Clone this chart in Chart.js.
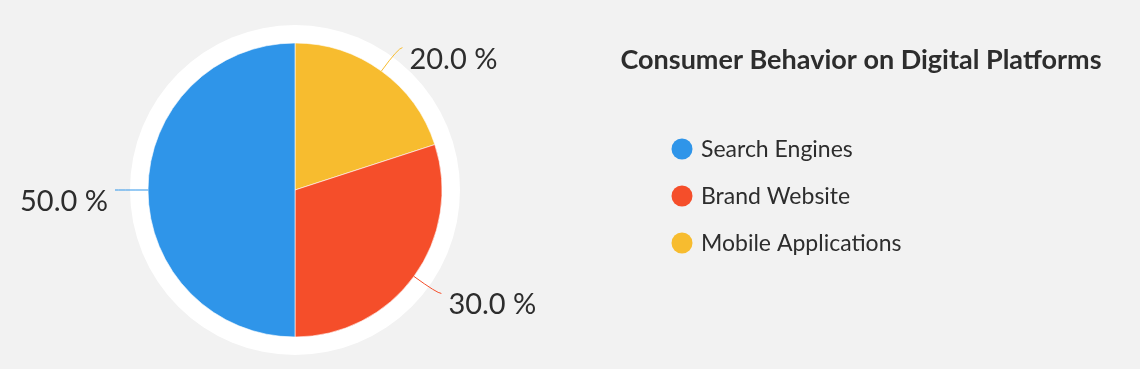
<!DOCTYPE html>
<html>
<head>
<meta charset="utf-8">
<script src="https://cdn.jsdelivr.net/npm/chart.js@4/dist/chart.umd.min.js"></script>
<style>
  html, body { margin: 0; padding: 0; background: #f2f2f2; }
  #wrap { width: 1140px; height: 369px; position: relative; }
</style>
</head>
<body>
<div id="wrap"><canvas id="myPie"></canvas></div>
<script>
var chartTitle = "Consumer Behavior on Digital Platforms";
var categories = ["Search Engines", "Brand Website", "Mobile Applications"];
var shares = [50, 30, 20];
var sliceColors = ["#2f95e9", "#f54e2a", "#f7bc2f"];

// pie goes clockwise from the top: yellow, red, blue
var order = [2, 1, 0];

// white disc behind the pie
var ringPlugin = {
  id: "ring",
  beforeDatasetsDraw: function (chart) {
    var arc = chart.getDatasetMeta(0).data[0];
    if (!arc) return;
    var ctx = chart.ctx;
    ctx.save();
    ctx.fillStyle = "#ffffff";
    ctx.beginPath();
    ctx.arc(arc.x, arc.y, arc.outerRadius + 18, 0, Math.PI * 2);
    ctx.fill();
    ctx.restore();
  }
};

// percent labels with leader lines, title and legend
var labelPlugin = {
  id: "labels",
  afterDatasetsDraw: function (chart) {
    var ctx = chart.ctx;
    var ds = chart.data.datasets[0];
    var meta = chart.getDatasetMeta(0);
    ctx.save();
    meta.data.forEach(function (arc, i) {
      var mid = (arc.startAngle + arc.endAngle) / 2;
      var r0 = arc.outerRadius;
      var r1 = arc.outerRadius + 29;
      var x0 = arc.x + Math.cos(mid) * r0, y0 = arc.y + Math.sin(mid) * r0;
      var x1 = arc.x + Math.cos(mid) * r1, y1 = arc.y + Math.sin(mid) * r1;
      var right = Math.cos(mid) >= 0;
      var x2 = x1 + (right ? 4 : -4);
      ctx.strokeStyle = ds.backgroundColor[i];
      ctx.lineWidth = 1;
      ctx.beginPath();
      ctx.moveTo(x0, y0);
      ctx.quadraticCurveTo(x1, y1, x2, y1);
      ctx.stroke();
      ctx.fillStyle = "#2d2d2d";
      ctx.font = "29px Lato";
      ctx.textBaseline = "alphabetic";
      ctx.textAlign = right ? "left" : "right";
      ctx.fillText(ds.data[i].toFixed(1) + " %", x2 + (right ? 7 : -7), y1 + 21);
    });

    ctx.fillStyle = "#2d2d2d";
    ctx.font = "bold 27px Lato";
    ctx.textAlign = "center";
    ctx.fillText(chartTitle, 861, 69);

    ctx.font = "23px Lato";
    ctx.textAlign = "left";
    categories.forEach(function (name, i) {
      var cy = 149 + i * 47;
      ctx.fillStyle = sliceColors[i];
      ctx.beginPath();
      ctx.arc(682, cy, 10.5, 0, Math.PI * 2);
      ctx.fill();
      ctx.fillStyle = "#2d2d2d";
      ctx.fillText(name, 701, cy + 8);
    });
    ctx.restore();
  }
};

new Chart("myPie", {
  type: "pie",
  data: {
    labels: order.map(function (i) { return categories[i]; }),
    datasets: [{
      data: order.map(function (i) { return shares[i]; }),
      backgroundColor: order.map(function (i) { return sliceColors[i]; }),
      borderColor: "rgba(255,255,255,0.6)",
      borderWidth: 1
    }]
  },
  options: {
    responsive: true,
    maintainAspectRatio: false,
    animation: false,
    events: [],
    radius: 147,
    layout: { padding: { left: 0, right: 550, top: 11, bottom: 0 } },
    plugins: {
      legend: { display: false },
      title: { display: false },
      tooltip: { enabled: false }
    }
  },
  plugins: [ringPlugin, labelPlugin]
});
</script>
</body>
</html>
